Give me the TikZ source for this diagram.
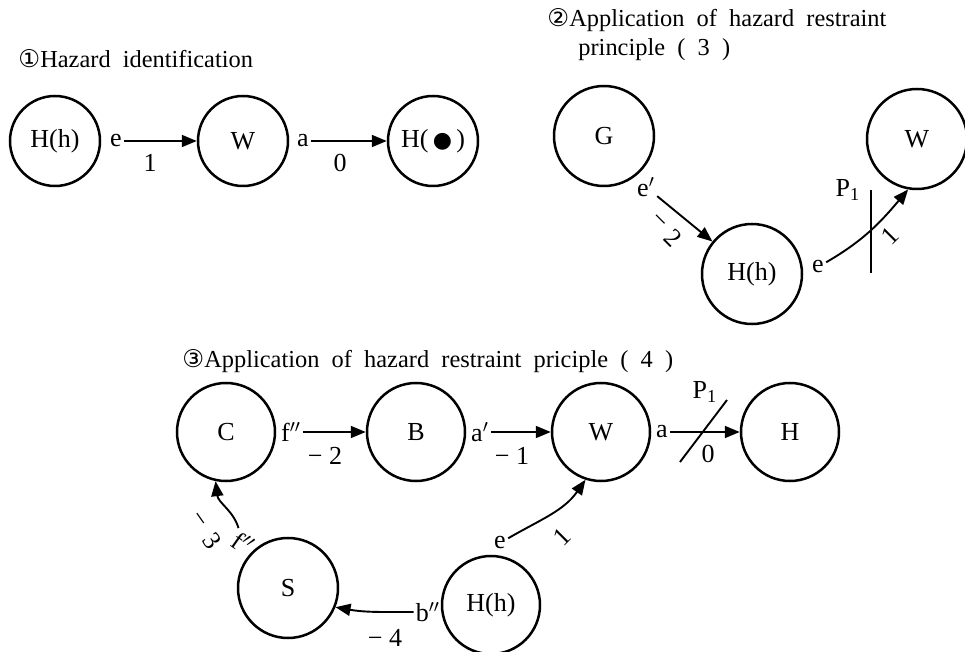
\documentclass[tikz,border=0pt]{standalone}
\usepackage{fontspec}
\setmainfont{Liberation Serif}
\newfontfamily\symfont{DejaVu Sans}
\usetikzlibrary{arrows.meta}
\newcommand\wideSp{\spaceskip=0.5em\relax}
\begin{document}
\begin{tikzpicture}[x=0.5pt,y=-0.5pt,
  every node/.style={font=\fontsize{13}{15}\selectfont},
  stA/.style={circle,draw,line width=1.25pt,inner sep=0pt,minimum size=45pt},
  stB/.style={circle,draw,line width=1.25pt,inner sep=0pt,minimum size=50pt},
  stC/.style={circle,draw,line width=1.25pt,inner sep=0pt,minimum size=49pt},
  arr/.style={-{Triangle[length=7.5pt,width=6pt]},line width=0.95pt},
  bar/.style={line width=0.95pt},
  lbl/.style={inner sep=1pt},
  ttl/.style={anchor=base west,inner sep=0pt,font=\fontsize{12.2}{14}\selectfont}]
\useasboundingbox (0,0) rectangle (965,652);

% ---------- panel 1 ----------
\node[ttl] (t1) at (18,68) {\wideSp{\symfont ①}Hazard identification};
\node[stA] (Hh1) at (55,141) {H(h)};
\node[stA] (W1) at (243,141) {W};
\node[stA] (Hd1) at (433,141) {H(\,{\symfont\fontsize{11}{12}\selectfont ●}\,)};
\node[lbl] (e1) at (116,141) {e};
\node[lbl] (a1) at (303,141) {a};
\draw[arr] (e1) -- (W1);
\draw[arr] (a1) -- (Hd1);
\node (n1) at (150,163) {1};
\node (n0) at (340,163) {0};

% ---------- panel 2 ----------
\node[ttl] (t2a) at (547,27) {\wideSp{\symfont ②}Application of hazard restraint};
\node[ttl] (t2b) at (578,56) {\wideSp principle ( 3 )};
\node[stB] (G) at (604,136) {G};
\node[stB] (W2) at (917,139) {W};
\node[stB] (H2) at (752,274) {H(h)};
\node[lbl] (ep) at (646,187) {e$'$};
\draw[arr] (ep) -- (H2);
\node[rotate=-45,inner sep=0pt] (m2a) at (658,222) {−};
\node[rotate=-45,inner sep=0pt] (m2b) at (673,238) {2};
\node[lbl] (e2) at (818,267) {e};
\draw[arr] (e2) to[out=30,in=230] (W2.-100);
\draw[bar] (871,190) -- (871,273);
\node (p2) at (848,190) {P\textsubscript{1}};
\node[rotate=45] (o2) at (890,236) {1};

% ---------- panel 3 ----------
\node[ttl] (t3) at (182,368) {\wideSp{\symfont ③}Application of hazard restraint priciple ( 4 )};
\node[stC] (C) at (226,432) {C};
\node[stC] (B) at (416,432) {B};
\node[stC] (W3) at (601,432) {W};
\node[stC] (H3) at (790,432) {H};
\node[stB] (S) at (288,588) {S};
\node[stC] (Hh3) at (491,605) {H(h)};

\node[lbl] (f1) at (291,432) {f$''$};
\draw[arr] (f1) -- (B);
\node (m2c) at (325,456) {− 2};
\node[lbl] (ap) at (480,432) {a$'$};
\draw[arr] (ap) -- (W3);
\node (m1) at (512,456) {− 1};
\node[lbl] (a3) at (662,432) {a};
\draw[arr] (a3) -- (H3);
\draw[bar] (680,462) -- (727,400);
\node (p3) at (705,392) {P\textsubscript{1}};
\node (z3) at (708,454) {0};

\node[lbl] (e3) at (500,543) {e};
\draw[arr] (e3) to[out=30,in=235] (W3.-108);
\node[rotate=45] (o3) at (562,537) {1};

\node[lbl] (bpp) at (428,612) {b$''$};
\draw[arr] (bpp) to[out=180,in=-10] (S.-22);
\node (m4) at (385,638) {− 4};

\node[lbl,rotate=-35] (fpp) at (243,543) {f$''$};
\draw[arr] (fpp) to[out=120,in=-83] (C.-102);
\node[rotate=-55,inner sep=0pt] (m3a) at (198,521) {−};
\node[rotate=-55,inner sep=0pt] (m3b) at (212,541) {3};
\end{tikzpicture}
\end{document}
